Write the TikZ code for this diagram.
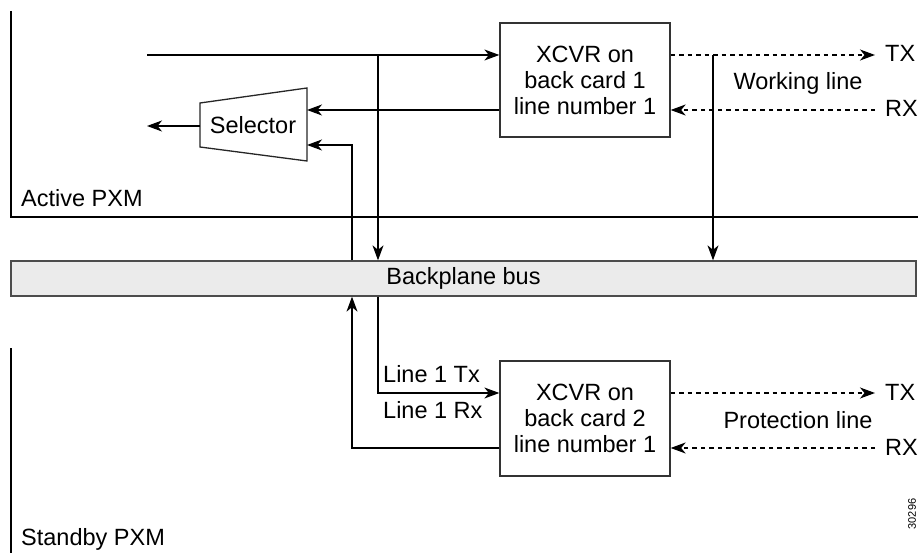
\documentclass[tikz,border=0pt]{standalone}
\usepackage{fontspec}
\setmainfont{Liberation Sans}
\usetikzlibrary{arrows.meta}
\begin{document}
\begin{tikzpicture}[x=1pt,y=-1pt,
  font=\fontsize{23.5}{26}\selectfont,
  conn/.style={line width=1.3pt, -{Stealth[length=15pt,width=11pt,inset=4.5pt]}},
  dashconn/.style={conn, dash pattern=on 4.5pt off 4pt},
  xcvr/.style={draw=black!80, line width=1.3pt, minimum width=170pt, minimum height=114pt, align=center, inner sep=0pt},
  pxm/.style={line width=2.8pt},
  lbl/.style={inner sep=0pt, anchor=base west},
  clbl/.style={inner sep=0pt, anchor=base},
  ]
\useasboundingbox (0,0) rectangle (918,553);

% PXM borders
\draw[pxm] (11,11) -- (11,217) -- (918,217);
\draw[pxm] (11,348) -- (11,553);
\node[lbl] (active) at (21,207) {Active PXM};
\node[lbl] (standby) at (21,545) {Standby PXM};

% backplane bus
\node[draw=black!70, fill=black!8, line width=1.3pt, minimum width=905pt, minimum height=35pt, inner sep=0pt] (bus) at (463.5,278.5) {Backplane bus};

% transceivers
\node[xcvr] (x1) at (585,80) {XCVR on\\back card 1\\line number 1};
\node[xcvr, minimum height=115pt] (x2) at (585,418.5) {XCVR on\\back card 2\\line number 1};

% selector
\draw[line width=1.3pt, draw=black!85] (200,103) -- (307,88) -- (307,161) -- (200,147) -- cycle;
\node[clbl] (sel) at (253,134) {Selector};
\coordinate (selR1) at (307,110);
\coordinate (selR2) at (307,145);
\coordinate (selL) at (200,126);
\coordinate (outL) at (147,126);

% upper connectors
\coordinate (inL) at (147,55);
\coordinate (j1) at (378,55);
\draw[line width=1.3pt] (inL) -- (j1);
\draw[conn] (j1) -- (x1.west |- j1);
\draw[conn] (j1) -- (j1 |- bus.north);
\draw[conn] (x1.west |- selR1) -- (selR1);
\draw[conn] (selL) -- (outL);
\coordinate (j2) at (352,145);
\draw[conn] (j2 |- bus.north) -- (j2) -- (selR2);

% working line
\coordinate (tx1) at (875,55);
\coordinate (rx1) at (875,110);
\draw[dashconn] (x1.east |- tx1) -- (tx1);
\draw[dashconn] (rx1) -- (x1.east |- rx1);
\coordinate (j3) at (713,55);
\draw[conn] (j3) -- (j3 |- bus.north);
\node[lbl] (tx1l) at (885,62) {TX};
\node[lbl] (rx1l) at (885,117) {RX};
\node[clbl] (work) at (798,90) {Working line};

% lower connectors
\coordinate (j4) at (378,393);
\draw[conn] (j4 |- bus.south) -- (j4) -- (x2.west |- j4);
\coordinate (j5) at (352,448);
\draw[conn] (x2.west |- j5) -- (j5) -- (j5 |- bus.south);
\node[lbl] (l1tx) at (383,382) {Line 1 Tx};
\node[lbl] (l1rx) at (383,418) {Line 1 Rx};

% protection line
\coordinate (tx2) at (875,393);
\coordinate (rx2) at (875,448);
\draw[dashconn] (x2.east |- tx2) -- (tx2);
\draw[dashconn] (rx2) -- (x2.east |- rx2);
\node[lbl] (tx2l) at (885,400) {TX};
\node[lbl] (rx2l) at (885,455) {RX};
\node[clbl] (prot) at (798,428) {Protection line};

% figure number
\node[rotate=90, inner sep=0pt, font=\fontsize{11}{12}\selectfont] (fig) at (912,514) {30296};
\end{tikzpicture}
\end{document}
